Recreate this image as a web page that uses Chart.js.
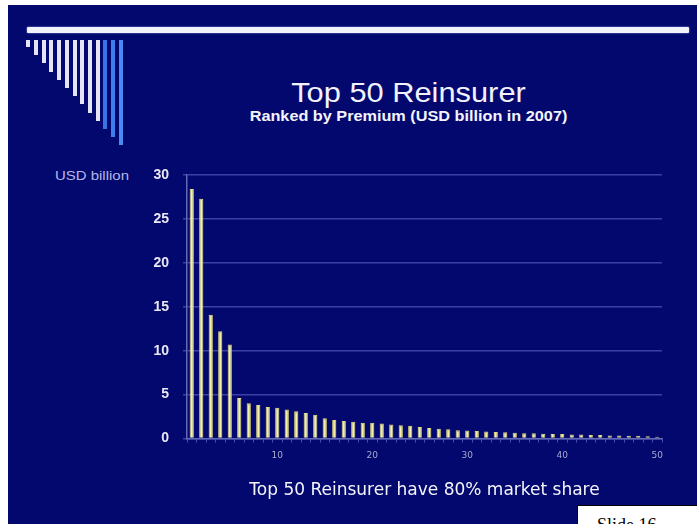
<!DOCTYPE html>
<html>
<head>
<meta charset="utf-8">
<script src="https://cdn.jsdelivr.net/npm/chart.js@4.4.1/dist/chart.umd.min.js"></script>
<style>
  html, body { margin: 0; padding: 0; background: #fff; }
  body { width: 697px; height: 524px; position: relative; overflow: hidden; font-family: "Liberation Sans", Arial, sans-serif; }
  #slide { position: absolute; left: 8px; top: 5px; width: 689px; height: 519px; background: #03086f; }
  #rule { position: absolute; left: 27px; top: 27px; width: 662px; height: 6px; background: #f3f3fd; border-radius: 1px; box-shadow: 0 0 2px #9aa0e0; }
  .stripe { position: absolute; top: 40px; width: 4px; }
  #title { position: absolute; left: 0; width: 817px; top: 77.5px; text-align: center; font-size: 28px; line-height: 29px; color: #f2f2fc; transform: scaleX(1.1); }
  #subtitle { position: absolute; left: 0; width: 817px; top: 108.5px; text-align: center; font-size: 14.5px; line-height: 15px; font-weight: bold; color: #f4f4fc; transform: scaleX(1.12); }
  #unit { position: absolute; left: 55px; top: 169px; font-size: 13px; line-height: 13px; color: #b4b8e6; transform: scaleX(1.15); transform-origin: 0 0; }
  #slideno { position: absolute; left: 577px; top: 505px; width: 200px; height: 40px; background: #fff; border: 1.5px solid #000; }
  #slideno span { position: absolute; left: 19px; top: 10px; font-family: "Liberation Serif", "Times New Roman", serif; font-size: 18px; line-height: 18px; color: #000; }
  canvas { position: absolute; left: 0; top: 0; }
</style>
</head>
<body>
<div id="slide"></div>
<div id="rule"></div>
<div id="title">Top 50 Reinsurer</div>
<div id="subtitle">Ranked by Premium (USD billion in 2007)</div>
<div id="unit">USD billion</div>
<canvas id="chart" width="697" height="524"></canvas>
<div id="slideno"><span>Slide 16</span></div>

<script>
// rank of each reinsurer
const ranks = [
  "1", "2", "3", "4", "5", "6", "7", "8", "9", "10",
  "11", "12", "13", "14", "15", "16", "17", "18", "19", "20",
  "21", "22", "23", "24", "25", "26", "27", "28", "29", "30",
  "31", "32", "33", "34", "35", "36", "37", "38", "39", "40",
  "41", "42", "43", "44", "45", "46", "47", "48", "49", "50"
];

// net premium written, USD billion (2007)
const premiums = [
  28.4, 27.3, 14.1, 12.2, 10.7, 4.6, 4.0, 3.8, 3.6, 3.5,
  3.3, 3.1, 2.9, 2.7, 2.3, 2.1, 2.0, 1.9, 1.8, 1.8,
  1.7, 1.6, 1.5, 1.45, 1.3, 1.2, 1.1, 1.05, 0.95, 0.9,
  0.85, 0.8, 0.75, 0.7, 0.65, 0.6, 0.6, 0.55, 0.5, 0.5,
  0.45, 0.45, 0.4, 0.4, 0.35, 0.35, 0.3, 0.3, 0.25, 0.2
];

// only every tenth rank gets a label
const rankTicks = ["10", "20", "30", "40", "50"];

const yMin = 0;
const yMax = 30;
const yStep = 5;

// corner decoration: stepped stripes, last three in blue
for (let i = 0; i < 13; i++) {
  const s = document.createElement("div");
  s.className = "stripe";
  s.style.left = (26.3 + i * 7.7) + "px";
  s.style.height = (7 + i * 8.2) + "px";
  s.style.background = i < 10 ? "#e4e4f6" : ["#3a74e2", "#3f7eec", "#4a8af2"][i - 10];
  document.body.appendChild(s);
}

const gridColor = "#3a41a2";
const axisColor = "#6368b8";

new Chart(document.getElementById("chart"), {
  type: "bar",
  data: {
    labels: ranks,
    datasets: [
      {
        label: "Premium (USD billion)",
        data: premiums,
        backgroundColor: "#f4f0a8",
        borderColor: "#e2da7c",
        borderWidth: 1,
        barPercentage: 0.44,
        categoryPercentage: 1
      }
    ]
  },
  options: {
    responsive: false,
    maintainAspectRatio: false,
    animation: false,
    layout: {
      padding: { left: 127, right: 35, top: 175, bottom: 20 }
    },
    plugins: {
      legend: { display: false },
      tooltip: { enabled: false }
    },
    scales: {
      x: {
        afterFit: (s) => { s.height = 65.5; },
        grid: {
          drawOnChartArea: false,
          drawTicks: true,
          tickLength: 4,
          color: "#4a50aa"
        },
        border: { display: true, color: axisColor, width: 1.5 },
        ticks: {
          autoSkip: false,
          maxRotation: 0,
          padding: 8,
          color: "#a8aacc",
          font: { family: "DejaVu Sans", size: 9 },
          callback: function (val, i) {
            const lbl = ranks[i];
            return rankTicks.includes(lbl) ? lbl : "";
          }
        },
        title: {
          display: true,
          text: "Top 50 Reinsurer have 80% market share",
          color: "#f4f4fa",
          font: { family: "DejaVu Sans", size: 17 },
          padding: { top: 0, bottom: 3 }
        }
      },
      y: {
        min: yMin,
        max: yMax,
        afterFit: (s) => { s.width = 60; },
        grid: {
          color: gridColor,
          lineWidth: 1.5,
          tickLength: 4
        },
        border: { display: true, color: axisColor, width: 1.5 },
        ticks: {
          stepSize: yStep,
          padding: 14,
          color: "#e8e8f4",
          font: { family: "Liberation Sans", size: 14, weight: "bold" }
        }
      }
    }
  }
});
</script>
</body>
</html>
